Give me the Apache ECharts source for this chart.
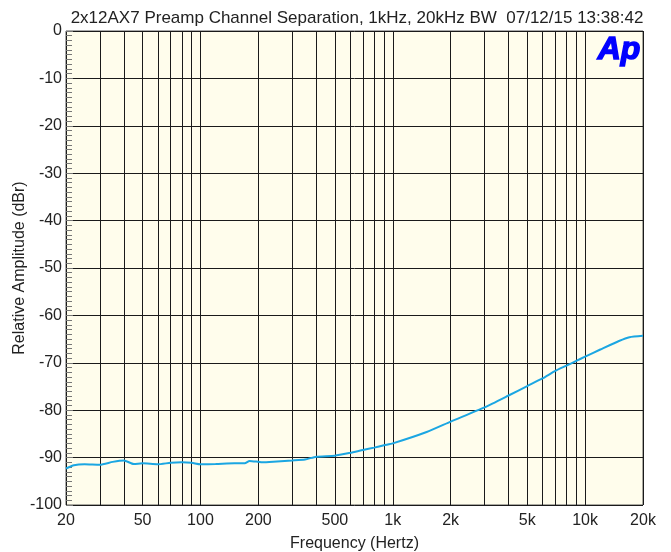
<!DOCTYPE html>
<html>
<head>
<meta charset="utf-8">
<script src="https://cdn.jsdelivr.net/npm/echarts@6/dist/echarts.min.js"></script>
<style>
  html, body { margin: 0; padding: 0; background: #fff; }
  #chart { width: 671px; height: 552px; }
</style>
</head>
<body>
<div id="chart"></div>
<script>
const freqs = [20, 22, 25, 30, 35, 40, 45, 50, 60, 70, 80, 90, 100, 120, 150, 170, 180, 200, 210, 250, 300, 350, 400, 500, 600, 700, 800, 900,
  1000, 1500, 2000, 3000, 4000, 5000, 6000, 7000, 8000, 9000, 10000, 12000, 15000, 17000, 20000];
const levels = [-92.3, -91.6, -91.4, -91.5, -90.9, -90.6, -91.35, -91.2, -91.4, -91.1, -91.0, -91.1, -91.4, -91.35, -91.2, -91.2, -90.7, -90.9, -91.0, -90.8, -90.6, -90.4, -89.8, -89.6, -89.0, -88.4, -87.9, -87.4,
  -87.0, -84.6, -82.4, -79.4, -76.9, -74.9, -73.3, -71.7, -70.6, -69.6, -68.7, -67.2, -65.4, -64.6, -64.3];

const gridFreqs = [20, 30, 40, 50, 60, 70, 80, 90, 100, 200, 300, 400, 500, 600, 700, 800, 900,
  1000, 2000, 3000, 4000, 5000, 6000, 7000, 8000, 9000, 10000, 20000];
const labelFreqs = [20, 50, 100, 200, 500, 1000, 2000, 5000, 10000, 20000];
const labelTexts = ['20', '50', '100', '200', '500', '1k', '2k', '5k', '10k', '20k'];

const FONT = "'Liberation Sans', Arial, sans-serif";
const lg = Math.log10;

const chart = echarts.init(document.getElementById('chart'));

chart.setOption({
  backgroundColor: '#ffffff',
  animation: false,
  title: {
    text: '2x12AX7 Preamp Channel Separation, 1kHz, 20kHz BW  07/12/15 13:38:42',
    left: 352,
    textAlign: 'center',
    top: 5,
    textStyle: { fontFamily: FONT, fontSize: 17, fontWeight: 'normal', color: '#222' }
  },
  graphic: [{
    type: 'text',
    left: 597,
    top: 33,
    style: {
      text: 'Ap',
      font: "italic 900 32px 'Liberation Sans', Arial, sans-serif",
      fill: '#0000ff',
      stroke: '#0000ff',
      lineWidth: 1.5
    }
  }],
  grid: {
    left: 66, right: 28, top: 31, bottom: 47,
    outerBoundsMode: 'none',
    show: true,
    backgroundColor: '#fffdec',
    borderColor: '#555',
    borderWidth: 1
  },
  xAxis: {
    type: 'value',
    min: lg(20),
    max: lg(20000),
    name: 'Frequency (Hertz)',
    nameLocation: 'middle',
    nameGap: 31,
    nameTextStyle: { fontFamily: FONT, fontSize: 16, color: '#222' },
    axisLine: { show: false },
    axisTick: { show: false, customValues: gridFreqs.map(lg) },
    axisLabel: {
      customValues: labelFreqs.map(lg),
      formatter: (v) => {
        const i = labelFreqs.findIndex(f => Math.abs(lg(f) - v) < 1e-6);
        return i >= 0 ? labelTexts[i] : '';
      },
      fontFamily: FONT, fontSize: 16, color: '#222', margin: 8
    },
    splitLine: { show: true, lineStyle: { color: '#1a1a1a', width: 1 } }
  },
  yAxis: {
    type: 'value',
    min: -100,
    max: 0,
    interval: 10,
    name: 'Relative Amplitude (dBr)',
    nameLocation: 'middle',
    nameGap: 38,
    nameMoveOverlap: false,
    nameTextStyle: { fontFamily: FONT, fontSize: 16, color: '#222' },
    axisLine: { show: false },
    axisTick: { show: true, inside: true, length: 7, lineStyle: { color: '#777' } },
    minorTick: { show: true, splitNumber: 10, length: 6, lineStyle: { color: '#777', width: 1 } },
    axisLabel: { fontFamily: FONT, fontSize: 16, color: '#222', margin: 4 },
    splitLine: { show: true, lineStyle: { color: '#1a1a1a', width: 1 } }
  },
  series: [{
    type: 'line',
    data: freqs.map((f, i) => [lg(f), levels[i]]),
    showSymbol: false,
    smooth: 0.2,
    lineStyle: { color: '#1ba6e2', width: 2 },
    z: 5
  }]
});
</script>
</body>
</html>
